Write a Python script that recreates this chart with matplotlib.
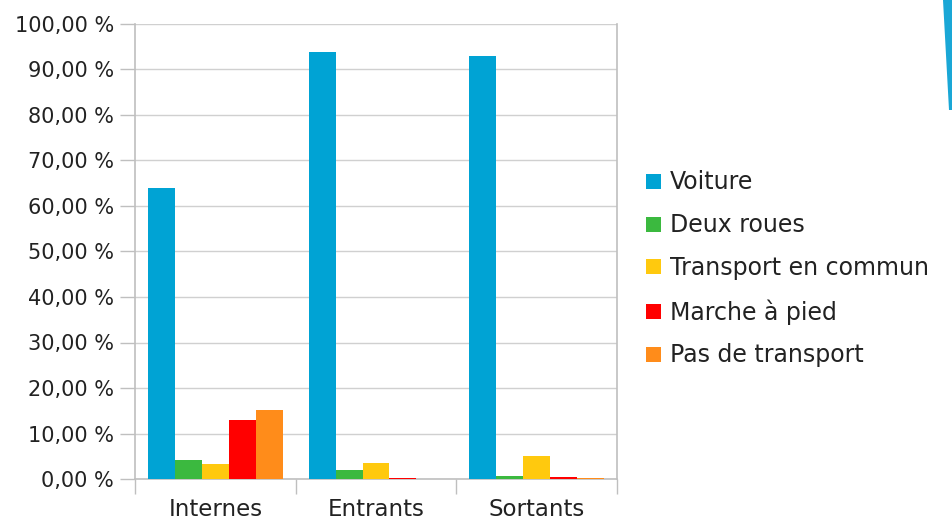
import numpy as np
import matplotlib.pyplot as plt
from matplotlib.patches import Polygon

categories = ['Internes', 'Entrants', 'Sortants']
series = ['Voiture', 'Deux roues', 'Transport en commun', 'Marche à pied', 'Pas de transport']
voiture = [64.0, 93.8, 93.0]
deux_roues = [4.2, 2.0, 0.7]
transport_commun = [3.3, 3.6, 5.1]
marche = [13.0, 0.2, 0.5]
pas_transport = [15.2, 0.0, 0.3]
yticks = np.arange(0, 101, 10)

values = [voiture, deux_roues, transport_commun, marche, pas_transport]
colors = ['#00a3d4', '#3bb93f', '#ffc90e', '#ff0000', '#ff8c1a']

plt.rcParams['font.family'] = ['DejaVu Sans']

fig = plt.figure(figsize=(9.52, 5.23), dpi=100)
ax = fig.add_axes([135 / 952, 1 - 479 / 523, (617 - 135) / 952, (479 - 24) / 523])

x = np.arange(len(categories))
width = 0.168
for i, (name, vals, c) in enumerate(zip(series, values, colors)):
    ax.bar(x + (i - 2) * width, vals, width, color=c, label=name, zorder=3)

ax.set_xlim(-0.5, 2.5)
ax.set_ylim(0, 100)
ax.set_yticks(yticks)
ax.set_yticklabels(['{:.2f} %'.format(v).replace('.', ',') for v in yticks],
                   fontsize=15, color='#222222')
ax.grid(axis='y', color='#d0d0d0', linewidth=1, zorder=0)

ax.set_xticks([-0.5, 0.5, 1.5, 2.5])
ax.set_xticklabels([])
ax.set_xticks(x, minor=True)
ax.set_xticklabels(categories, minor=True, fontsize=16.5, color='#222222')
ax.tick_params(axis='x', which='major', length=11, color='#bfbfbf', width=1)
ax.tick_params(axis='x', which='minor', length=0, pad=14)
ax.tick_params(axis='y', length=11, color='#bfbfbf', width=1, pad=4)

for s in ['left', 'right', 'bottom']:
    ax.spines[s].set_color('#bfbfbf')
    ax.spines[s].set_linewidth(1.2)
ax.spines['top'].set_visible(False)

leg = ax.legend(loc='upper left', bbox_to_anchor=(637 / 952, 1 - 161 / 523),
                bbox_transform=fig.transFigure, frameon=False, fontsize=17,
                handlelength=0.6, handleheight=0.6, handletextpad=0.4,
                labelspacing=0.8, borderaxespad=0)
for t in leg.get_texts():
    t.set_color('#222222')

# decorative stripe in the top right corner of the slide
stripe = Polygon([(943 / 952, 1.0), (952 / 952, 1.0), (952 / 952, 1 - 110 / 523),
                  (949 / 952, 1 - 110 / 523)], closed=True,
                 transform=fig.transFigure, color='#1aa7d6', lw=0)
fig.patches.append(stripe)

fig.savefig('out.png', dpi=100)
